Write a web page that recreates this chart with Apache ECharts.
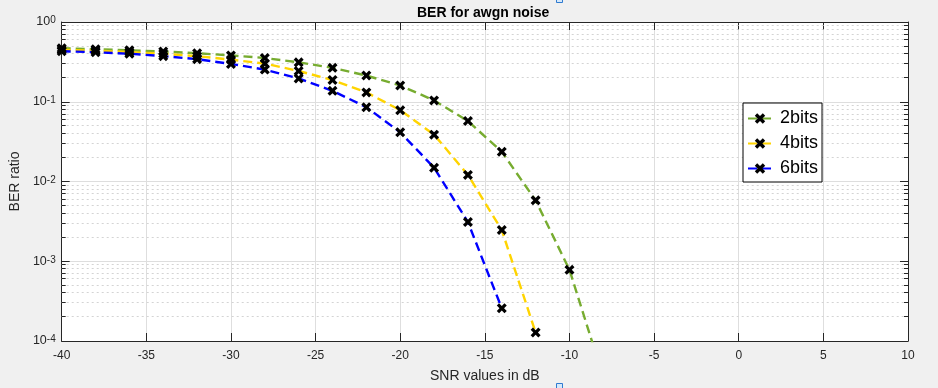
<!DOCTYPE html>
<html><head><meta charset="utf-8">
<script src="https://cdn.jsdelivr.net/npm/echarts@6/dist/echarts.min.js"></script>
<style>html,body{margin:0;padding:0;background:#f0f0f0}#c{width:938px;height:388px}</style>
</head><body><div id="c"></div>
<script>
// ---- data ----
const snr = [-40,-38,-36,-34,-32,-30,-28,-26,-24,-22,-20,-18,-16,-14,-12,-10,-8];
const ber2bits = [0.469,0.455,0.442,0.426,0.406,0.381,0.354,0.312,0.266,0.213,0.160,0.104,0.0573,0.0236,0.0058,0.00078,0.000035];
const ber4bits = [0.449,0.437,0.420,0.400,0.373,0.337,0.301,0.243,0.187,0.131,0.0784,0.0387,0.0121,0.00246,0.000128,null,null];
const ber6bits = [0.430,0.418,0.400,0.373,0.342,0.298,0.253,0.196,0.137,0.0855,0.0414,0.0149,0.0031,0.000257,null,null,null];
const seriesNames = ['2bits','4bits','6bits'];
const seriesColors = ['#77AC30','#FFD400','#0000FF'];
const xMin = -40, xMax = 10, xStep = 5;
const yMin = 1e-4, yMax = 1;
const yDecades = [1e-4,1e-3,1e-2,1e-1];
const minorMultipliers = [2,3,4,5,6,7,8,9];
const titleText = 'BER for awgn noise';
const xName = 'SNR values in dB';
const yName = 'BER ratio';

const FONT = 'Liberation Sans, Arial, Helvetica, sans-serif';
const AX = '#262626';
const GRID = '#dedede';

const minorValues = [];
yDecades.forEach(d => minorMultipliers.forEach(m => minorValues.push([xMin, d * m])));

const XMARK = 'path://M0,2.3 L2.3,0 L5,2.7 L7.7,0 L10,2.3 L7.3,5 L10,7.7 L7.7,10 L5,7.3 L2.3,10 L0,7.7 L2.7,5 Z';

function mk(name, vals, color) {
  return {
    name, type: 'line', data: snr.map((x, i) => [x, vals[i]]),
    symbol: XMARK, symbolSize: 10, showSymbol: true, clip: true,
    itemStyle: { color: '#000' },
    lineStyle: { color, width: 2.4, type: [9, 5] },
    connectNulls: false, z: 3
  };
}

const chart = echarts.init(document.getElementById('c'), null, { renderer: 'canvas' });
chart.setOption({
  animation: false,
  backgroundColor: '#f0f0f0',
  textStyle: { fontFamily: FONT },
  title: {
    text: titleText, left: 412, top: 1,
    textStyle: { fontFamily: FONT, fontSize: 14, fontWeight: 'bold', color: '#000' }
  },
  grid: { left: 57, right: 30, top: 22, bottom: 44, show: true, backgroundColor: '#fff', borderWidth: 0 },
  legend: {
    data: seriesNames, orient: 'vertical', left: 743, top: 103,
    backgroundColor: '#fff', borderColor: '#000', borderWidth: 1,
    padding: [3, 4, 1, 4], itemGap: 0, itemWidth: 24, itemHeight: 13,
    textStyle: { fontFamily: FONT, fontSize: 18, color: '#000', lineHeight: 25, padding: [0, 0, 0, 3] }
  },
  xAxis: [{
    type: 'value', min: xMin, max: xMax, interval: xStep, position: 'bottom',
    name: xName, nameLocation: 'middle', nameGap: 28,
    nameTextStyle: { fontFamily: FONT, fontSize: 14, color: AX },
    axisLine: { show: true, onZero: false, lineStyle: { color: AX, width: 1 } },
    axisTick: { show: true, inside: true, length: 8, lineStyle: { color: AX } },
    axisLabel: { color: AX, fontSize: 12, fontFamily: FONT, margin: 9 },
    splitLine: { show: true, lineStyle: { color: GRID, width: 1 } }
  }, {
    type: 'value', min: xMin, max: xMax, interval: xStep, position: 'top',
    axisLine: { show: true, onZero: false, lineStyle: { color: AX, width: 1 } },
    axisTick: { show: true, inside: true, length: 8, lineStyle: { color: AX } },
    axisLabel: { show: false }, splitLine: { show: false }
  }],
  yAxis: [{
    type: 'log', logBase: 10, min: yMin, max: yMax, position: 'left',
    name: yName, nameLocation: 'middle', nameGap: 37,
    nameTextStyle: { fontFamily: FONT, fontSize: 14, color: AX },
    axisLine: { show: true, onZero: false, lineStyle: { color: AX, width: 1 } },
    axisTick: { show: true, inside: true, length: 8, lineStyle: { color: AX } },
    axisLabel: {
      color: AX, margin: 6,
      formatter: v => '{b|10}{s|' + Math.round(Math.log10(v)) + '}',
      rich: {
        b: { fontSize: 12.5, fontFamily: FONT, color: AX, lineHeight: 12, padding: [6, 0, 0, 0], verticalAlign: 'bottom' },
        s: { fontSize: 10, fontFamily: FONT, color: AX, lineHeight: 13, verticalAlign: 'top' }
      }
    },
    splitLine: { show: true, lineStyle: { color: GRID, width: 1 } }
  }, {
    type: 'log', logBase: 10, min: yMin, max: yMax, position: 'right',
    axisLine: { show: true, onZero: false, lineStyle: { color: AX, width: 1 } },
    axisTick: { show: true, inside: true, length: 8, lineStyle: { color: AX } },
    axisLabel: { show: false }, splitLine: { show: false }
  }],
  series: [
    {
      type: 'custom', name: 'minor', xAxisIndex: 0, yAxisIndex: 0, z: 1, silent: true,
      data: minorValues,
      renderItem: (params, api) => {
        const cs = params.coordSys;
        let y = api.coord([api.value(0), api.value(1)])[1];
        y = Math.round(y - 0.5) + 0.5;
        const x0 = cs.x, x1 = cs.x + cs.width;
        return { type: 'group', children: [
          { type: 'line', shape: { x1: x0, y1: y, x2: x1, y2: y }, style: { stroke: '#d4d4d4', lineWidth: 1, lineDash: [2, 3] } },
          { type: 'line', shape: { x1: x0, y1: y, x2: x0 + 4, y2: y }, style: { stroke: AX, lineWidth: 1 } },
          { type: 'line', shape: { x1: x1 - 4, y1: y, x2: x1, y2: y }, style: { stroke: AX, lineWidth: 1 } }
        ]};
      }
    },
    mk(seriesNames[0], ber2bits, seriesColors[0]),
    mk(seriesNames[1], ber4bits, seriesColors[1]),
    mk(seriesNames[2], ber6bits, seriesColors[2])
  ],
  graphic: [
    { type: 'rect', shape: { x: 556.5, y: -3.5, width: 6, height: 6 }, style: { fill: '#d6e8fa', stroke: '#2f7bd0', lineWidth: 1 } },
    { type: 'rect', shape: { x: 556.5, y: 383.5, width: 6, height: 6 }, style: { fill: '#d6e8fa', stroke: '#2f7bd0', lineWidth: 1 } }
  ]
});
</script></body></html>
